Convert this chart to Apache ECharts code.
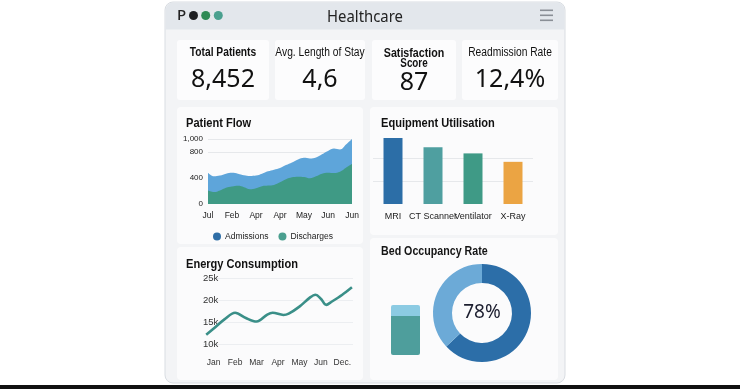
<!DOCTYPE html>
<html>
<head>
<meta charset="utf-8">
<script src="https://cdn.jsdelivr.net/npm/echarts@6/dist/echarts.min.js"></script>
<style>
html,body{margin:0;padding:0;background:#fff;}
#c{width:740px;height:389px;}
</style>
</head>
<body>
<div id="c"></div>
<script>
// ---- data ----
const kpiTitles = ['Total Patients', 'Avg. Length of Stay', 'Satisfaction\nScore', 'Readmission Rate'];
const kpiValues = ['8,452', '4,6', '87', '12,4%'];

const flowMonths = ['Jul', 'Feb', 'Apr', 'Apr', 'May', 'Jun', 'Jun'];
const flowTicks = [0, 400, 800, 1000];
const flowX = [0, 0.25, 0.5, 0.75, 1, 1.25, 1.5, 1.75, 2, 2.25, 2.5, 2.75, 3, 3.25, 3.5, 3.75, 4, 4.25, 4.5, 4.75, 5, 5.25, 5.5, 5.75, 6];
const admissions = [482, 426, 437, 467, 482, 467, 442, 431, 437, 467, 503, 528, 553, 599, 640, 685, 711, 701, 716, 766, 817, 853, 838, 914, 1000];
const discharges = [208, 183, 208, 249, 269, 279, 259, 228, 244, 274, 284, 294, 335, 381, 411, 421, 416, 396, 426, 467, 482, 477, 497, 558, 614];

const equipNames = ['MRI', 'CT Scanner', 'Ventilator', 'X-Ray'];
const equipValues = [86, 74, 66, 55];

const energyMonths = ['Jan', 'Feb', 'Mar', 'Apr', 'May', 'Jun', 'Dec.'];
const energyX = [-0.35, 0, 0.5, 1, 1.5, 2, 2.5, 2.75, 3.25, 3.5, 4, 4.5, 4.75, 5, 5.25, 5.5, 6, 6.45];
const energyK = [12.1, 13.5, 15.6, 17.1, 15.9, 15.1, 16.7, 17.1, 16.6, 16.9, 18.5, 20.6, 21.2, 20.3, 18.9, 19.6, 21.2, 22.9];

const occupancyRate = 78;
const ringShares = [63, 37];
const bedBar = [78, 22];

// ---- styles ----
const ARIAL = '"Liberation Sans", Arial, sans-serif';
const SANS = '"Noto Sans", "Liberation Sans", sans-serif';
const NARROW_SCALE = 0.82;
const equipColors = ['#2c6ea7', '#4f9fa0', '#3f9a86', '#eba443'];

const chart = echarts.init(document.getElementById('c'), null, {renderer: 'canvas'});

function rect(x, y, w, h, fill, r, stroke) {
  return {type: 'rect', silent: true, shape: {x, y, width: w, height: h, r: r || 0},
    style: {fill, stroke: stroke || null, lineWidth: stroke ? 1 : 0}};
}
function txt(x, y, t, font, color, align, sx) {
  return {type: 'text', silent: true, x, y, scaleX: sx || 1,
    style: {text: t, font, fill: color || '#111', align: align || 'left', verticalAlign: 'middle'}};
}

const kpiBoxes = [[177, 40, 92, 60], [275, 40, 90, 60], [372, 40, 84, 60], [462, 40, 96, 60]];
const graphics = [
  rect(165, 2, 400, 381, '#f3f4f6', 8, '#d9dde2'),
  rect(165.5, 2.5, 399, 27, '#e3e7ec', [8, 8, 0, 0]),
  rect(0, 385, 740, 4, '#111'),
  txt(177, 16, 'P', '500 15px ' + SANS, '#222'),
  {type: 'circle', silent: true, shape: {cx: 193.5, cy: 15.5, r: 4.5}, style: {fill: '#1d1f22'}},
  {type: 'circle', silent: true, shape: {cx: 205.7, cy: 15.5, r: 4.5}, style: {fill: '#2f8a55'}},
  {type: 'circle', silent: true, shape: {cx: 218.3, cy: 15.5, r: 4.5}, style: {fill: '#4aa08f'}},
  txt(365, 17, 'Healthcare', '16px ' + SANS, '#222', 'center', 0.93),
  rect(540, 9.5, 13, 1.6, '#8a8f96'),
  rect(540, 14.5, 13, 1.6, '#8a8f96'),
  rect(540, 19.5, 13, 1.6, '#8a8f96'),
  // panels
  rect(177, 107, 186, 137, '#fbfbfc', 4),
  rect(370, 107, 188, 128, '#fbfbfc', 4),
  rect(177, 247, 186, 133, '#fbfbfc', 4),
  rect(370, 238, 188, 142, '#fbfbfc', 4),
  txt(186, 123, 'Patient Flow', 'bold 13.5px ' + ARIAL, '#111', 'left', NARROW_SCALE),
  txt(381, 123, 'Equipment Utilisation', 'bold 13.5px ' + ARIAL, '#111', 'left', NARROW_SCALE),
  txt(186, 264, 'Energy Consumption', 'bold 13.5px ' + ARIAL, '#111', 'left', NARROW_SCALE),
  txt(381, 251, 'Bed Occupancy Rate', 'bold 13px ' + ARIAL, '#151515', 'left', NARROW_SCALE),
  txt(482, 313, occupancyRate + '%', '19px ' + SANS, '#1b1d2e', 'center')
];
kpiBoxes.forEach((b, i) => {
  graphics.push(rect(b[0], b[1], b[2], b[3], '#fcfcfd', 3));
  const cx = b[0] + b[2] / 2;
  if (kpiTitles[i].indexOf('\n') >= 0) {
    const parts = kpiTitles[i].split('\n');
    graphics.push(txt(cx, 53, parts[0], 'bold 13px ' + ARIAL, '#111', 'center', NARROW_SCALE));
    graphics.push(txt(cx, 64, parts[1], '600 12px ' + ARIAL, '#111', 'center', NARROW_SCALE));
    graphics.push(txt(cx, 83, kpiValues[i], '25px ' + SANS, '#111', 'center'));
  } else {
    graphics.push(txt(cx, 53, kpiTitles[i], (i === 0 ? 'bold ' : '') + '12.5px ' + ARIAL, '#111', 'center', NARROW_SCALE));
    graphics.push(txt(cx, 80, kpiValues[i], '25px ' + SANS, '#111', 'center'));
  }
});

const option = {
  animation: false,
  backgroundColor: '#ffffff',
  graphic: graphics,
  legend: {
    data: ['Admissions', 'Discharges'],
    left: 208, top: 227,
    icon: 'circle', itemWidth: 8, itemHeight: 8, itemGap: 10,
    textStyle: {fontFamily: ARIAL, fontSize: 8.5, color: '#222', padding: [0, 0, 0, -1]}
  },
  grid: [
    {left: 208, top: 139, width: 144, height: 65},
    {left: 373, top: 135, width: 160, height: 69},
    {left: 203, top: 278, width: 150, height: 66},
    {left: 391, top: 305, width: 29, height: 50}
  ],
  xAxis: [
    {type: 'value', gridIndex: 0, min: 0, max: 6, axisLine: {show: false}, axisTick: {show: false},
      splitLine: {show: false},
      axisLabel: {customValues: [0, 1, 2, 3, 4, 5, 6], formatter: v => flowMonths[Math.round(v)],
        fontFamily: ARIAL, fontSize: 8.5, color: '#222', margin: 7}},
    {type: 'category', gridIndex: 1, data: equipNames, axisLine: {show: false}, axisTick: {show: false},
      axisLabel: {interval: 0, fontFamily: ARIAL, fontSize: 9, color: '#222', margin: 8}},
    {type: 'value', gridIndex: 2, min: -0.5, max: 6.5, axisLine: {show: false}, axisTick: {show: false},
      splitLine: {show: false},
      axisLabel: {customValues: [0, 1, 2, 3, 4, 5, 6], formatter: v => energyMonths[Math.round(v)],
        fontFamily: ARIAL, fontSize: 8.5, color: '#333', margin: 14}},
    {type: 'category', gridIndex: 3, data: ['Beds'], show: false}
  ],
  yAxis: [
    {type: 'value', gridIndex: 0, min: 0, max: 1000, interval: 200, axisLine: {show: false}, axisTick: {show: false},
      axisLabel: {customValues: flowTicks, formatter: v => v.toLocaleString('en-US'),
        fontFamily: ARIAL, fontSize: 8, color: '#222', margin: 5},
      splitLine: {show: true, lineStyle: {color: ['rgba(0,0,0,0)', 'rgba(0,0,0,0)', 'rgba(0,0,0,0)', 'rgba(0,0,0,0)', '#e6e8eb', '#e6e8eb']}}},
    {type: 'value', gridIndex: 1, min: 0, max: 90, interval: 30, axisLine: {show: false}, axisTick: {show: false},
      axisLabel: {show: false},
      splitLine: {show: true, showMinLine: false, showMaxLine: false, lineStyle: {color: '#e6e8eb'}}},
    {type: 'value', gridIndex: 2, min: 10, max: 25, interval: 5, axisLine: {show: false}, axisTick: {show: false},
      axisLabel: {inside: true, margin: 0, formatter: v => v + 'k', fontFamily: ARIAL, fontSize: 9.5, color: '#333', verticalAlign: 'middle'},
      splitLine: {show: true, lineStyle: {color: '#eceef1'}}},
    {type: 'value', gridIndex: 3, min: 0, max: 100, show: false}
  ],
  series: [
    {name: 'Admissions', type: 'line', xAxisIndex: 0, yAxisIndex: 0, smooth: 0.4, showSymbol: false,
      data: flowX.map((x, i) => [x, admissions[i]]),
      itemStyle: {color: '#2f6ea6'}, lineStyle: {width: 0}, areaStyle: {color: '#5ea5da', opacity: 1}},
    {name: 'Discharges', type: 'line', xAxisIndex: 0, yAxisIndex: 0, smooth: 0.4, showSymbol: false,
      data: flowX.map((x, i) => [x, discharges[i]]),
      itemStyle: {color: '#4a9f8f'}, lineStyle: {width: 0}, areaStyle: {color: '#3f9a85', opacity: 1}},
    {type: 'bar', xAxisIndex: 1, yAxisIndex: 1, barWidth: 19,
      data: equipValues.map((v, i) => ({value: v, itemStyle: {color: equipColors[i]}}))},
    {type: 'line', xAxisIndex: 2, yAxisIndex: 2, smooth: 0.35, showSymbol: false,
      data: energyX.map((x, i) => [x, energyK[i]]),
      lineStyle: {color: '#3a8f88', width: 2.6}, itemStyle: {color: '#3a8f88'}},
    {type: 'pie', center: [482, 313], radius: [30, 49], startAngle: 90, clockwise: true,
      label: {show: false}, labelLine: {show: false}, silent: true,
      data: [
        {value: ringShares[0], itemStyle: {color: '#2c6ea8'}},
        {value: ringShares[1], itemStyle: {color: '#6caad7'}}
      ]},
    {type: 'bar', xAxisIndex: 3, yAxisIndex: 3, stack: 'bed', barWidth: 29,
      data: [bedBar[0]], itemStyle: {color: '#4e9e9c', borderRadius: [0, 0, 2, 2]}},
    {type: 'bar', xAxisIndex: 3, yAxisIndex: 3, stack: 'bed', barWidth: 29,
      data: [bedBar[1]], itemStyle: {color: '#8ccbe3', borderRadius: [2, 2, 0, 0]}}
  ]
};
chart.setOption(option);
</script>
</body>
</html>
